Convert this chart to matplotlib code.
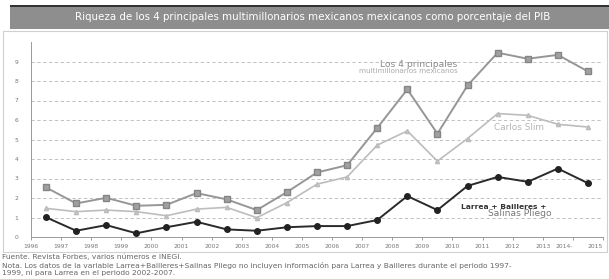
import matplotlib as mpl
mpl.use('Agg')
import matplotlib.pyplot as plt
from matplotlib.patches import Rectangle

# values (percent of GDP)
years = list(range(1996, 2015))
tick_years = list(range(1996, 2016))
top4 = [2.54, 1.72, 2.01, 1.60, 1.65, 2.25, 1.93, 1.38, 2.30, 3.31, 3.68, 5.59, 7.57,
        5.30, 7.77, 9.45, 9.14, 9.34, 8.49]
slim = [1.47, 1.30, 1.38, 1.30, 1.09, 1.43, 1.52, 0.99, 1.76, 2.71, 3.08, 4.71, 5.44,
        3.89, 5.05, 6.33, 6.24, 5.78, 5.64]
lbs = [1.01, 0.32, 0.61, 0.19, 0.50, 0.78, 0.39, 0.32, 0.50, 0.56, 0.56, 0.87, 2.10,
       1.38, 2.62, 3.08, 2.83, 3.51, 2.76]

title = "Riqueza de los 4 principales multimillonarios mexicanos mexicanos como porcentaje del PIB"
source = "Fuente. Revista Forbes, varios números e INEGI."
note1 = ("Nota. Los datos de la variable Larrea+Bailleres+Salinas Pliego no incluyen "
         "información para Larrea y Bailleres durante el periodo 1997-")
note2 = "1999, ni para Larrea en el periodo 2002-2007."

W, H = 609, 279
fig = plt.figure(figsize=(W / 100, H / 100), dpi=100)

# frame and title bar
fig.patches.append(Rectangle((3 / W, 1 - 252 / H), 604 / W, 221 / H, transform=fig.transFigure,
                             fill=False, edgecolor='#d0d0d0', linewidth=0.8))
fig.patches.append(Rectangle((10 / W, 1 - 29 / H), 599 / W, 23 / H, transform=fig.transFigure,
                             facecolor='#8e8e8e', edgecolor='none'))
fig.patches.append(Rectangle((10 / W, 1 - 7 / H), 599 / W, 2 / H, transform=fig.transFigure,
                             facecolor='#333333', edgecolor='none'))
fig.text(313 / W, 1 - 17 / H, title, color='white', fontsize=7.4, ha='center', va='center')

ax = fig.add_axes([31 / W, 1 - 237 / H, 572 / W, 195 / H])
x = list(range(len(years)))

ax.plot(x, top4, color='#969696', lw=1.4, marker='s', ms=4, mfc='#a0a0a0', mec='#858585', zorder=3)
ax.plot(x, slim, color='#bdbdbd', lw=1.2, marker='^', ms=3, mfc='#c8c8c8', mec='#bbbbbb', zorder=3)
ax.plot(x, lbs, color='#2a2a2a', lw=1.4, marker='o', ms=4, mfc='#222222', mec='#222222', zorder=4)

ax.set_xlim(-0.5, len(years) - 0.5)
ax.set_ylim(0, 10)
ax.set_yticks(range(0, 10))
ax.set_yticklabels([str(v) for v in range(0, 10)])
ax.set_xticks([i - 0.5 for i in range(len(tick_years))])
xlabels = [str(t) for t in tick_years]
xlabels[-2] = xlabels[-2] + "-"
ax.set_xticklabels(xlabels)
ax.tick_params(axis='both', labelsize=4.3, colors='#777777', length=2, width=0.5, pad=3)
ax.tick_params(axis='y', length=0, pad=9)
tl = ax.get_xticklabels()
tl[-1].set_horizontalalignment('right')
tl[-2].set_horizontalalignment('right')
for yv in range(1, 10):
    ax.axhline(yv, color='#b8b8b8', lw=0.6, ls=(0, (4, 3)), zorder=1)
for s in ['top', 'right']:
    ax.spines[s].set_visible(False)
ax.spines['left'].set_color('#999999')
ax.spines['bottom'].set_color('#999999')
ax.spines['left'].set_linewidth(0.7)
ax.spines['bottom'].set_linewidth(0.7)

# series labels
ax.text(13.67, 8.85, "Los 4 principales", color='#8a8a8a', fontsize=6.6, ha='right', va='center')
ax.text(13.67, 8.5, "multimillonarios mexicanos", color='#ababab', fontsize=5.2, ha='right', va='center')
ax.text(15.7, 5.59, "Carlos Slim", color='#b5b5b5', fontsize=6.4, ha='center', va='center')
ax.text(15.2, 1.55, "Larrea + Bailleres +", color='#333333', fontsize=5.4, ha='center',
        va='center', fontweight='bold')
ax.text(15.73, 1.2, "Salinas Pliego", color='#777777', fontsize=6.6, ha='center', va='center')

fig.text(2 / W, 1 - 257 / H, source, color='#666666', fontsize=5.4, ha='left', va='center')
fig.text(2 / W, 1 - 265.5 / H, note1, color='#666666', fontsize=5.4, ha='left', va='center')
fig.text(2 / W, 1 - 273.5 / H, note2, color='#666666', fontsize=5.4, ha='left', va='center')

fig.savefig('out.png', dpi=100)
plt.close(fig)
